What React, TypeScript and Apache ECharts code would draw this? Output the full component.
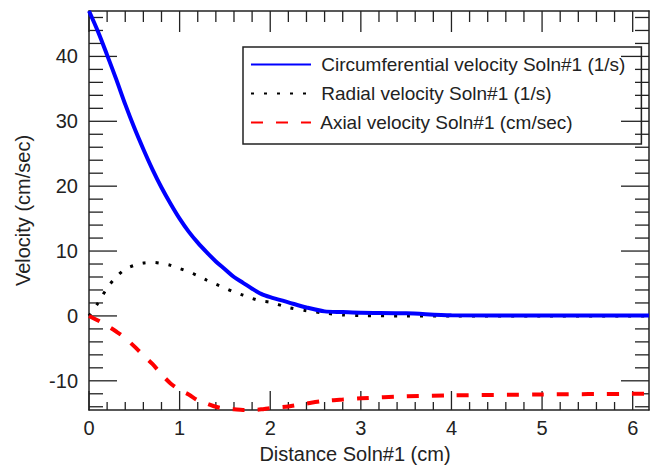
import React, { useEffect, useRef } from "react";
import * as echarts from "echarts";

const xValues = [0, 0.1, 0.2, 0.3, 0.4, 0.5, 0.6, 0.7, 0.8, 0.9, 1.0, 1.1, 1.2, 1.3, 1.4, 1.5, 1.6, 1.7, 1.8, 1.9, 2.0, 2.2, 2.4, 2.6, 2.8, 3.0, 3.5, 4.0, 5.0, 6.18];
const circumferential = [47, 43.8, 40.2, 36.5, 32.6, 29, 25.7, 22.6, 19.8, 17.3, 15, 13, 11.3, 9.8, 8.4, 7.2, 6, 5.1, 4.2, 3.4, 2.9, 2.1, 1.3, 0.7, 0.6, 0.5, 0.4, 0.1, 0.05, 0.05];
const radial = [0, 2.0, 4.3, 6.0, 7.2, 7.8, 8.15, 8.25, 8.1, 7.8, 7.3, 6.8, 6.2, 5.5, 4.9, 4.3, 3.7, 3.2, 2.7, 2.3, 2.1, 1.3, 0.8, 0.45, 0.15, 0.05, 0, 0, 0, 0];
const axial = [0, -0.7, -1.5, -2.4, -3.4, -4.7, -6.1, -7.4, -9.0, -10.4, -11.4, -12.1, -13.0, -13.5, -14.0, -14.3, -14.4, -14.5, -14.5, -14.4, -14.2, -13.95, -13.5, -13.1, -12.9, -12.7, -12.4, -12.25, -12.1, -12.0];

const xMajorTicks = [0, 1, 2, 3, 4, 5, 6];
const xMinorTicks = [0.2, 0.4, 0.6, 0.8, 1.2, 1.4, 1.6, 1.8, 2.2, 2.4, 2.6, 2.8, 3.2, 3.4, 3.6, 3.8, 4.2, 4.4, 4.6, 4.8, 5.2, 5.4, 5.6, 5.8, 6.2];
const yMajorTicks = [-10, 0, 10, 20, 30, 40];
const yMinorTicks = [-14, -12, -8, -6, -4, -2, 2, 4, 6, 8, 12, 14, 16, 18, 22, 24, 26, 28, 32, 34, 36, 38, 42, 44, 46];

const seriesNames = [
  "Circumferential velocity Soln#1 (1/s)",
  "Radial velocity Soln#1 (1/s)",
  "Axial velocity Soln#1 (cm/sec)",
];
const xTitle = "Distance Soln#1 (cm)";
const yTitle = "Velocity (cm/sec)";

const X_MIN = 0;
const X_MAX = 6.18;
const Y_MIN = -14.5;
const Y_MAX = 47;

const pair = (ys: number[]) => xValues.map((x, i) => [x, ys[i]]);

const FONT = "Liberation Sans, Arial, sans-serif";
const AXIS_COLOR = "#222";

// side: 0 bottom, 1 top, 2 left, 3 right ; kind: 1 major, 0 minor
const TICK_LEN: Record<string, number> = {
  "0-1": 19, "0-0": 8,
  "1-1": 21, "1-0": 11,
  "2-1": 28, "2-0": 14,
  "3-1": 28, "3-0": 14,
};

function tickData() {
  const out: number[][] = [];
  xMajorTicks.forEach((v) => { out.push([v, 0, 1]); out.push([v, 1, 1]); });
  xMinorTicks.forEach((v) => { if (v < X_MAX) { out.push([v, 0, 0]); out.push([v, 1, 0]); } });
  yMajorTicks.forEach((v) => { out.push([v, 2, 1]); out.push([v, 3, 1]); });
  yMinorTicks.forEach((v) => { if (v > Y_MIN && v < Y_MAX) { out.push([v, 2, 0]); out.push([v, 3, 0]); } });
  return out;
}

function renderTick(params: any, api: any) {
  const v = api.value(0);
  const side = api.value(1);
  const kind = api.value(2);
  const len = TICK_LEN[`${side}-${kind}`];
  let x1 = 0, y1 = 0, x2 = 0, y2 = 0;
  if (side === 0) {
    const p = api.coord([v, Y_MIN]);
    x1 = p[0]; y1 = p[1]; x2 = p[0]; y2 = p[1] - len;
  } else if (side === 1) {
    const p = api.coord([v, Y_MAX]);
    x1 = p[0]; y1 = p[1]; x2 = p[0]; y2 = p[1] + len;
  } else if (side === 2) {
    const p = api.coord([X_MIN, v]);
    x1 = p[0]; y1 = p[1]; x2 = p[0] + len; y2 = p[1];
  } else {
    const p = api.coord([X_MAX, v]);
    x1 = p[0]; y1 = p[1]; x2 = p[0] - len; y2 = p[1];
  }
  return {
    type: "line",
    shape: { x1, y1, x2, y2 },
    style: { stroke: AXIS_COLOR, lineWidth: 1.3 },
  };
}

function buildOption(): any {
  const baseX = {
    type: "value",
    min: X_MIN,
    max: X_MAX,
    minInterval: 1,
    maxInterval: 1,
    splitLine: { show: false },
    axisTick: { show: false },
    minorTick: { show: false },
    axisLine: { show: true, onZero: false, lineStyle: { color: AXIS_COLOR, width: 1.5 } },
  };
  const baseY = {
    type: "value",
    min: Y_MIN,
    max: Y_MAX,
    minInterval: 10,
    maxInterval: 10,
    splitLine: { show: false },
    axisTick: { show: false },
    minorTick: { show: false },
    axisLine: { show: true, onZero: false, lineStyle: { color: AXIS_COLOR, width: 1.5 } },
  };
  return {
    animation: false,
    grid: { left: 89, top: 11, right: -8, bottom: 56 },
    xAxis: [
      {
        ...baseX,
        position: "bottom",
        axisLabel: {
          color: AXIS_COLOR,
          fontFamily: FONT,
          fontSize: 20,
          margin: 8,
          formatter: (v: number) => (Math.abs(v - Math.round(v)) < 1e-6 ? String(Math.round(v)) : ""),
        },
      },
      { ...baseX, position: "top", axisLabel: { show: false } },
    ],
    yAxis: [
      {
        ...baseY,
        position: "left",
        name: yTitle,
        nameLocation: "middle",
        nameGap: 56,
        nameTextStyle: { color: AXIS_COLOR, fontFamily: FONT, fontSize: 20 },
        axisLabel: {
          color: AXIS_COLOR,
          fontFamily: FONT,
          fontSize: 20,
          margin: 11,
          formatter: (v: number) => (Math.abs(v / 10 - Math.round(v / 10)) < 1e-6 ? String(Math.round(v)) : ""),
        },
      },
      { ...baseY, position: "right", axisLabel: { show: false } },
    ],
    legend: {
      show: true,
      orient: "vertical",
      left: 243,
      top: 47,
      padding: [8, 16, 12, 7],
      itemGap: 10,
      itemWidth: 60,
      itemHeight: 20,
      borderColor: AXIS_COLOR,
      borderWidth: 1.5,
      selectedMode: false,
      itemStyle: { opacity: 0 },
      formatter: (name: string) => " " + name,
      textStyle: { color: AXIS_COLOR, fontFamily: FONT, fontSize: 19 },
      data: seriesNames,
    },
    graphic: [
      {
        type: "text",
        x: 355,
        y: 454,
        style: { text: xTitle, fill: AXIS_COLOR, font: `20px ${FONT}`, textAlign: "center", textVerticalAlign: "middle" },
      },
    ],
    series: [
      {
        name: "ticks",
        type: "custom",
        coordinateSystem: "cartesian2d",
        xAxisIndex: 0,
        yAxisIndex: 0,
        silent: true,
        clip: false,
        z: 1,
        encode: { x: 0, y: 1 },
        data: tickData(),
        renderItem: renderTick,
      },
      {
        name: seriesNames[1],
        type: "line",
        data: pair(radial),
        symbol: "none",
        smooth: 0.3,
        lineStyle: { color: "#000", width: 3, type: [3, 10], cap: "butt" },
        itemStyle: { color: "#000" },
      },
      {
        name: seriesNames[0],
        type: "line",
        data: pair(circumferential),
        symbol: "none",
        smooth: 0.3,
        lineStyle: { color: "#0000ff", width: 4 },
        itemStyle: { color: "#0000ff" },
      },
      {
        name: seriesNames[2],
        type: "line",
        data: pair(axial),
        symbol: "none",
        smooth: 0.3,
        lineStyle: { color: "#ff0000", width: 4, type: [12, 13], cap: "butt" },
        itemStyle: { color: "#ff0000" },
      },
    ],
  };
}

export default function App() {
  const ref = useRef<HTMLDivElement>(null);
  useEffect(() => {
    if (!ref.current) return;
    const chart = echarts.init(ref.current, undefined, { renderer: "svg" });
    chart.setOption(buildOption());
    return () => chart.dispose();
  }, []);
  return (
    <div
      ref={ref}
      style={{ position: "absolute", left: 0, top: 0, width: 652, height: 466, overflow: "hidden", background: "#fff" }}
    />
  );
}
